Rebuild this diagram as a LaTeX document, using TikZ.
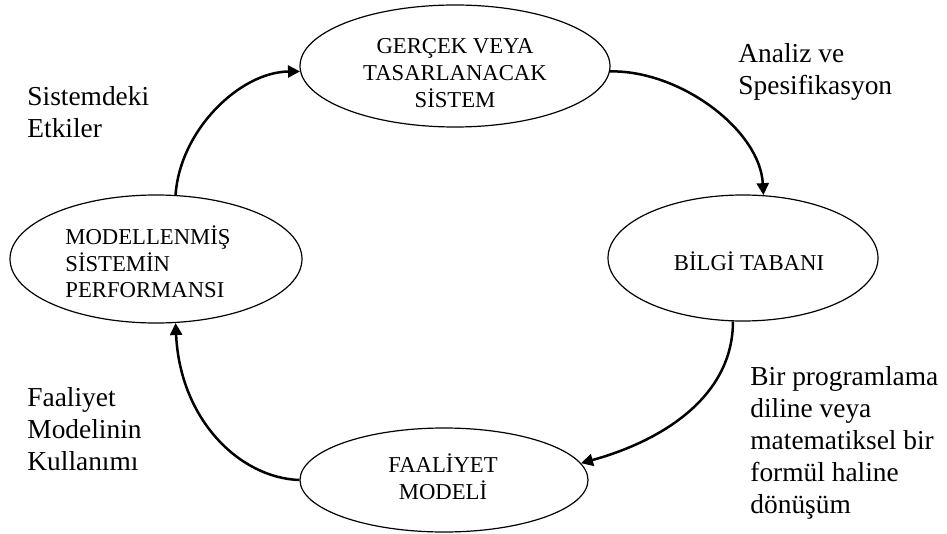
\documentclass[tikz,border=0pt]{standalone}
\usepackage{fontspec}
\setmainfont{Liberation Serif}
\usetikzlibrary{arrows.meta,shapes.geometric}

\tikzset{
  state/.style={draw, ellipse, line width=0.6pt, inner sep=0pt},
  statetext/.style={align=center, inner sep=0pt, font={\fontsize{11.35}{13.3}\selectfont}},
  note/.style={align=left, anchor=north west, inner sep=0pt, font={\fontsize{13.7}{16}\selectfont}},
  flow/.style={line width=1.25pt, -{Triangle[length=6pt,width=6pt]}}
}

\begin{document}
\begin{tikzpicture}[x=0.5pt, y=-0.5pt]
\useasboundingbox (0,0) rectangle (947,534);

% the four states of the cycle
\node[state, minimum width=155pt, minimum height=61pt] (real) at (455,66) {};
\node[statetext] (realtxt) at (455,73) {GERÇEK VEYA\\TASARLANACAK\\SİSTEM};

\node[state, minimum width=135pt, minimum height=63pt] (kb) at (743,258) {};
\node[statetext] (kbtxt) at (749,261) {BİLGİ TABANI};

\node[state, minimum width=144pt, minimum height=52pt] (am) at (444,480) {};
\node[statetext] (amtxt) at (443,477) {FAALİYET\\MODELİ};

\node[state, minimum width=146pt, minimum height=64pt] (perf) at (156,259) {};
\node[statetext, align=left, anchor=west] (perftxt) at (65,262) {MODELLENMİŞ\\SİSTEMİN\\PERFORMANSI};

% transition labels
\node[note] (l1) at (738,43) {Analiz ve\\Spesifikasyon};
\node[note] (l2) at (750,366) {Bir programlama\\diline veya\\matematiksel bir\\formül haline\\dönüşüm};
\node[note] (l3) at (27,387) {Faaliyet\\Modelinin\\Kullanımı};
\node[note] (l4) at (27,86) {Sistemdeki\\Etkiler};

% transitions
\draw[flow] (real.-2) .. controls (680,70) and (760,130) .. (kb.72);
\draw[flow] (kb.-99) .. controls (733,395) and (665,440) .. (am.7);
\draw[flow] (am.west) .. controls (240,478) and (180,420) .. (perf.-73);
\draw[flow] (perf.73) .. controls (180,130) and (240,72) .. (real.182);
\end{tikzpicture}
\end{document}
